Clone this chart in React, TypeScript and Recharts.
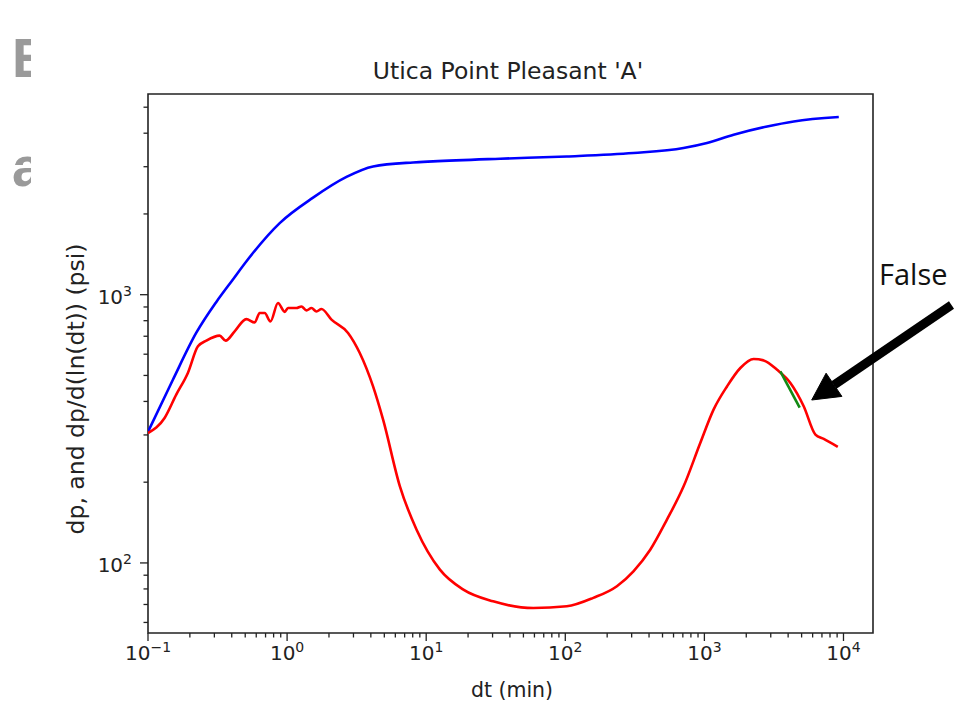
import { LineChart, Line, XAxis, YAxis, ReferenceArea } from "recharts";

// dp (blue)
const dtDp = [0.1, 0.151, 0.222, 0.31, 0.408, 0.509, 0.885, 1.537, 2.673, 4.15, 8.05, 11.2, 34, 102.6, 309, 708, 1044, 1622, 2824, 4390, 9250];
const dpVals = [308, 482, 720, 940, 1140, 1330, 1849, 2300, 2748, 3006, 3112, 3140, 3213, 3276, 3374, 3522, 3675, 3948, 4237, 4425, 4594];

// derivative (red)
const dtDer = [
  0.1, 0.1316, 0.1596, 0.1935, 0.2286, 0.2626, 0.327, 0.3614, 0.4197, 0.509, 0.585, 0.635, 0.69, 0.759, 0.86,
  0.961, 1.015, 1.167, 1.268, 1.377, 1.497, 1.626, 1.767, 2.085, 2.743, 3.33, 4.15, 4.9, 6.47, 8.53, 12.55,
  18.5, 30.3, 58.9, 102.5, 159, 235, 309, 408, 538, 709, 934, 1164, 1454, 1813, 2260, 2668, 3333, 4153, 5176,
  6283, 7211, 9100,
];
const derVals = [
  305, 347, 424, 511, 642, 674, 704, 674, 730, 811, 788, 855, 855, 795, 931,
  863, 892, 892, 904, 874, 892, 866, 884, 807, 720, 606, 455, 342, 193, 133, 94.4,
  79.5, 71.9, 67.9, 68.9, 74.1, 81.9, 93.1, 112, 145, 193, 280, 373, 455, 533, 576, 569, 525, 469, 384,
  301, 290, 271,
];

// fitted slope segment (green)
const dtFit = [3516, 4842];
const fitVals = [518, 379];

const X_DOMAIN = [0.1, 16300];
const Y_DOMAIN = [54.8, 5600];
const xMajor = [0.1, 1, 10, 100, 1000, 10000];
const xExp = ["\u22121", "0", "1", "2", "3", "4"];
const yMajor = [100, 1000];
const yExp = ["2", "3"];
const minorSteps = [2, 3, 4, 5, 6, 7, 8, 9];

const xTicks = [
  ...xMajor,
  ...xMajor.flatMap((d) => minorSteps.map((m) => m * d)).filter((v) => v < X_DOMAIN[1]),
];
const yTicks = [
  ...yMajor,
  ...[10, 100, 1000].flatMap((d) => minorSteps.map((m) => m * d)).filter((v) => v > Y_DOMAIN[0] && v < Y_DOMAIN[1] && v !== 100 && v !== 1000),
];

const zip = (xs: number[], ys: number[]) => xs.map((t, i) => ({ t, v: ys[i] }));
const dpData = zip(dtDp, dpVals);
const derData = zip(dtDer, derVals);
const fitData = zip(dtFit, fitVals);

const INK = "#222";
const FONT = "DejaVu Sans, sans-serif";

const XTick = (props: any) => {
  const { x, y, payload } = props;
  const i = xMajor.indexOf(payload.value);
  const major = i >= 0;
  return (
    <g>
      <line x1={x} x2={x} y1={y} y2={y + (major ? 8 : 4.5)} stroke={INK} strokeWidth={1.3} />
      {major && (
        <text x={x} y={y + 27} textAnchor="middle" fontSize={20} fill={INK} fontFamily={FONT}>
          10
          <tspan dy={-8} fontSize={14}>{xExp[i]}</tspan>
        </text>
      )}
    </g>
  );
};

const YTick = (props: any) => {
  const { x, y, payload } = props;
  const i = yMajor.indexOf(payload.value);
  const major = i >= 0;
  return (
    <g>
      <line x1={x - (major ? 8 : 4.5)} x2={x} y1={y} y2={y} stroke={INK} strokeWidth={1.3} />
      {major && (
        <text x={x - 16} y={y + 9} textAnchor="end" fontSize={20} fill={INK} fontFamily={FONT}>
          10
          <tspan dy={-8} fontSize={14}>{yExp[i]}</tspan>
        </text>
      )}
    </g>
  );
};

export default function App() {
  return (
    <div style={{ position: "absolute", left: 0, top: 0, width: 958, height: 705, background: "#fff", overflow: "hidden" }}>
      {/* slide title remnants behind the chart */}
      <div style={{ position: "absolute", left: 12, top: 0, fontFamily: "Liberation Sans, sans-serif", fontWeight: 700, color: "#9a9a9a", fontSize: 55 }}>
        <div style={{ position: "absolute", top: 31, lineHeight: 1 }}>E</div>
        <div style={{ position: "absolute", top: 140, lineHeight: 1 }}>a</div>
      </div>
      <div style={{ position: "absolute", left: 31, top: 0, width: 927, height: 705, background: "#fff" }} />
      <div style={{ position: "absolute", left: 0, top: 0 }}>
        <LineChart width={958} height={705} margin={{ top: 94, right: 85, bottom: 42, left: 88 }}>
          <XAxis
            dataKey="t"
            type="number"
            scale="log"
            domain={X_DOMAIN}
            allowDataOverflow
            ticks={xTicks}
            tick={<XTick />}
            tickLine={false}
            tickSize={0}
            tickMargin={0}
            axisLine={false}
            interval={0}
            height={30}
          />
          <YAxis
            type="number"
            scale="log"
            domain={Y_DOMAIN}
            allowDataOverflow
            ticks={yTicks}
            tick={<YTick />}
            tickLine={false}
            tickSize={0}
            tickMargin={0}
            axisLine={false}
            interval={0}
            width={60}
          />
          <ReferenceArea
            x1={X_DOMAIN[0]}
            x2={X_DOMAIN[1]}
            y1={Y_DOMAIN[0]}
            y2={Y_DOMAIN[1]}
            fill="none"
            fillOpacity={0}
            stroke={INK}
            strokeWidth={1.6}
            ifOverflow="visible"
          />
          <Line data={dpData} dataKey="v" type="monotone" stroke="#0000ff" strokeWidth={2.6} dot={false} isAnimationActive={false} />
          <Line data={derData} dataKey="v" type="monotone" stroke="#ff0000" strokeWidth={2.6} dot={false} isAnimationActive={false} />
          <Line data={fitData} dataKey="v" stroke="#138a13" strokeWidth={2.6} dot={false} isAnimationActive={false} />
        </LineChart>
      </div>
      <svg width={958} height={705} style={{ position: "absolute", left: 0, top: 0, pointerEvents: "none" }}>
        <text x={508} y={79} textAnchor="middle" fontSize={23.5} fill={INK} fontFamily={FONT}>
          Utica Point Pleasant 'A'
        </text>
        <text x={512} y={697} textAnchor="middle" fontSize={20.5} fill={INK} fontFamily={FONT}>
          dt (min)
        </text>
        <text
          transform="translate(84 389) rotate(-90)"
          textAnchor="middle"
          fontSize={23.5}
          fill={INK}
          fontFamily={FONT}
        >
          dp, and dp/d(ln(dt)) (psi)
        </text>
        <text x={879} y={285} fontSize={29} fill="#111" fontFamily="Open Sans, sans-serif">
          False
        </text>
        <line x1={951.5} y1={305} x2={834} y2={385} stroke="#000" strokeWidth={9} />
        <polygon points="811.7,400 826.1,373.2 841.9,396.4" fill="#000" stroke="#000" strokeWidth={1} />
      </svg>
    </div>
  );
}
